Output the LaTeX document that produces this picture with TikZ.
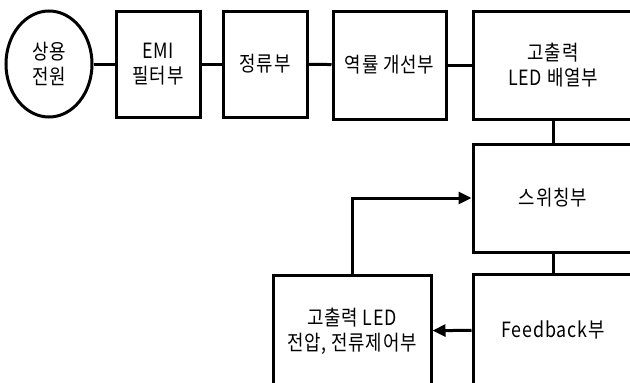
\documentclass[tikz,border=0pt]{standalone}
\usepackage{fontspec}
\setmainfont[FakeStretch=0.85,LetterSpace=4]{Noto Sans CJK KR}
\usetikzlibrary{shapes.geometric}
\usetikzlibrary{arrows.meta}
\tikzset{blk/.style={draw, line width=3pt, align=center, inner sep=0pt},
  arr/.style={line width=3pt, -{Triangle[length=13pt,width=12pt]}}}

\begin{document}
\begin{tikzpicture}[x=1pt,y=-1pt,font=\fontsize{21pt}{25pt}\selectfont]
\useasboundingbox (0,0) rectangle (630,383);
\clip (0,0) rectangle (630,383);
\node[blk,ellipse,minimum width=86pt,minimum height=106pt] (power) at (49,64) {상용\\전원};
\node[blk,minimum width=84pt,minimum height=106pt] (emi) at (158,64) {EMI\\필터부};
\node[blk,minimum width=84pt,minimum height=106pt] (rect) at (265,64) {정류부};
\node[blk,minimum width=113pt,minimum height=108pt] (pfc) at (389.5,65) {역률 개선부};
\node[blk,minimum width=160pt,minimum height=108pt] (ledarr) at (553,65) {고출력\\LED 배열부};

\node[blk,minimum width=160pt,minimum height=108pt] (sw) at (553,198) {스위칭부};
\node[blk,minimum width=160pt,minimum height=112pt] (fb) at (553,330) {Feedback부};
\node[blk,minimum width=158pt,minimum height=112pt] (ctrl) at (352,331) {고출력 LED\\전압, 전류제어부};

\draw[line width=3pt] (power) -- (emi);
\draw[line width=3pt] (emi) -- (rect);
\draw[line width=3pt] (rect) -- (pfc);
\draw[line width=3pt] (pfc) -- (ledarr);
\draw[line width=3pt] (ledarr) -- (sw);
\draw[line width=3pt] (sw) -- (fb);
\draw[arr] (fb) -- (ctrl);
\draw[arr] (ctrl) |- (sw);
\end{tikzpicture}
\end{document}
